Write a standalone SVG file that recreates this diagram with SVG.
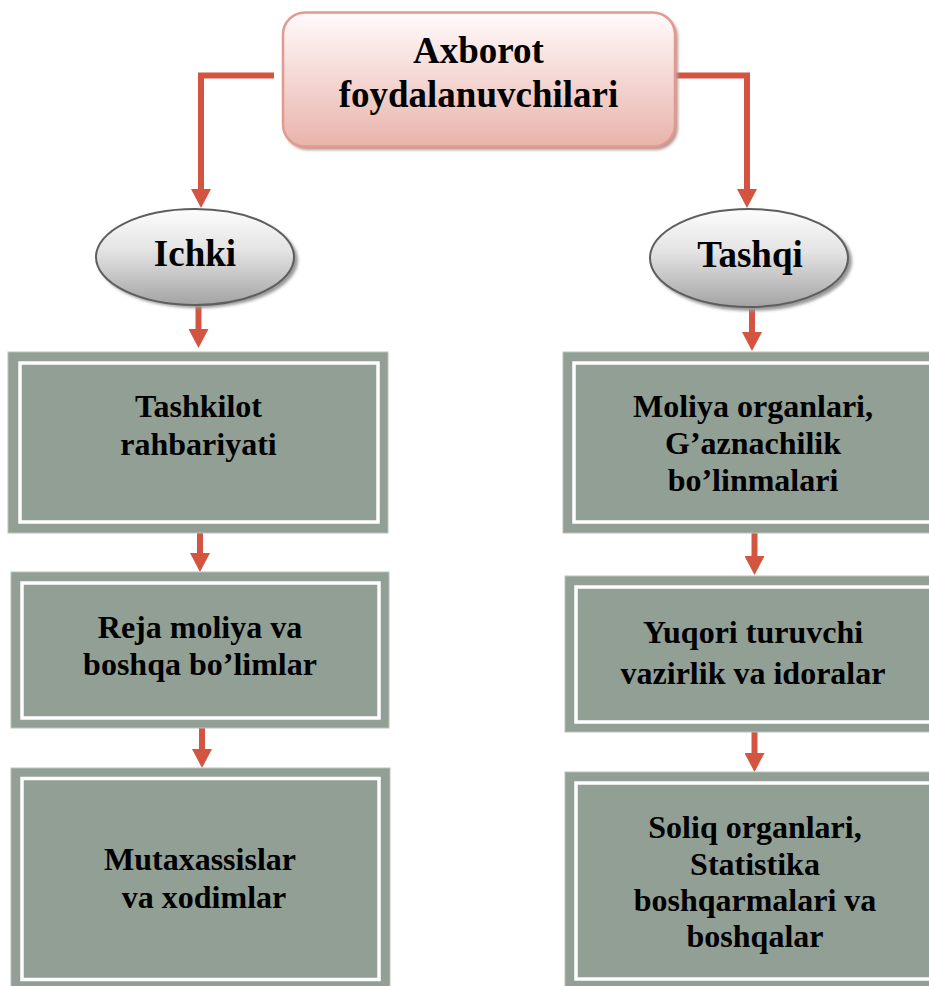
<svg xmlns="http://www.w3.org/2000/svg" width="929" height="986" viewBox="0 0 929 986">
  <defs>
    <linearGradient id="gradHead" x1="0" y1="0" x2="0" y2="1">
      <stop offset="0" stop-color="#fffbfb"/>
      <stop offset="1" stop-color="#e9b3ab"/>
    </linearGradient>
    <linearGradient id="gradOval" x1="0" y1="0" x2="0" y2="1">
      <stop offset="0" stop-color="#fdfdfd"/>
      <stop offset="0.45" stop-color="#e2e2e2"/>
      <stop offset="1" stop-color="#a3a3a3"/>
    </linearGradient>
    <filter id="soft" x="-10%" y="-10%" width="130%" height="130%">
      <feGaussianBlur stdDeviation="1.5"/>
    </filter>
    <marker id="arrow" viewBox="0 0 20 20" refX="0" refY="10" markerWidth="20" markerHeight="20" markerUnits="userSpaceOnUse" orient="auto">
      <path d="M0,0 L19,10 L0,20 z" fill="#d35440"/>
    </marker>
  </defs>
  <style>
    .lbl { font-family: "Liberation Serif", "Times New Roman", serif; font-weight: bold; fill: #000; text-anchor: middle; }
    .big { font-size: 37px; }
    .mid { font-size: 32px; }
    .box { fill: #919f95; stroke: #b9c2bb; stroke-width: 1; }
    .inner { fill: none; stroke: #ffffff; stroke-width: 3.5; }
    .oval { fill: url(#gradOval); stroke: #5e5e5e; stroke-width: 2; }
    .shadow { fill: #9a9a9a; filter: url(#soft); }
    .link { fill: none; stroke: #d35440; stroke-width: 6; stroke-linecap: butt; stroke-linejoin: miter; marker-end: url(#arrow); }
  </style>

  <rect width="929" height="986" fill="#ffffff"/>

  <!-- connectors -->
  <g id="connectors">
    <path class="link" d="M274,75.5 H201 V189"/>
    <path class="link" d="M673,75.5 H747 V189"/>
    <path class="link" d="M198.5,305 V329"/>
    <path class="link" d="M752,308 V332"/>
    <path class="link" d="M200,533 V553"/>
    <path class="link" d="M202,728 V749"/>
    <path class="link" d="M754.5,532 V556"/>
    <path class="link" d="M754.5,732 V753"/>
  </g>

  <!-- top node -->
  <g id="node-root">
    <rect x="285" y="15" width="393" height="135" rx="22" fill="#b89792" filter="url(#soft)"/>
    <rect x="283" y="12.5" width="392" height="134" rx="22" fill="url(#gradHead)" stroke="#e3998d" stroke-width="2.5"/>
    <text class="lbl big" x="478.5" y="63">Axborot</text>
    <text class="lbl big" x="478.5" y="107">foydalanuvchilari</text>
  </g>

  <!-- ovals -->
  <g id="node-ichki">
    <ellipse class="shadow" cx="198" cy="260" rx="100" ry="48"/>
    <ellipse class="oval" cx="195" cy="257" rx="99" ry="48"/>
    <text class="lbl big" x="195" y="266">Ichki</text>
  </g>
  <g id="node-tashqi">
    <ellipse class="shadow" cx="752" cy="261" rx="100" ry="50"/>
    <ellipse class="oval" cx="749" cy="258" rx="99" ry="49"/>
    <text class="lbl big" x="750" y="267">Tashqi</text>
  </g>

  <!-- internal users -->
  <g id="node-rahbariyat">
    <rect class="box" x="8" y="352" width="380" height="181"/>
    <rect class="inner" x="20" y="363" width="358" height="159"/>
    <text class="lbl mid" x="198.5" y="417">Tashkilot</text>
    <text class="lbl mid" x="198.5" y="455">rahbariyati</text>
  </g>
  <g id="node-reja">
    <rect class="box" x="11" y="572" width="378" height="156"/>
    <rect class="inner" x="22" y="583" width="357" height="135"/>
    <text class="lbl mid" x="200" y="638">Reja moliya va</text>
    <text class="lbl mid" x="200" y="675">boshqa bo’limlar</text>
  </g>
  <g id="node-mutaxassis">
    <rect class="box" x="11" y="768" width="379" height="222"/>
    <rect class="inner" x="22" y="778.5" width="357" height="201"/>
    <text class="lbl mid" x="200" y="870">Mutaxassislar</text>
    <text class="lbl mid" x="204" y="908">va xodimlar</text>
  </g>

  <!-- external users -->
  <g id="node-moliya">
    <rect class="box" x="563" y="352" width="380" height="181"/>
    <rect class="inner" x="574" y="363" width="358" height="159"/>
    <text class="lbl mid" x="753" y="417">Moliya organlari,</text>
    <text class="lbl mid" x="753" y="454">G’aznachilik</text>
    <text class="lbl mid" x="753" y="491">bo’linmalari</text>
  </g>
  <g id="node-vazirlik">
    <rect class="box" x="565" y="576" width="380" height="156"/>
    <rect class="inner" x="576" y="587" width="358" height="135"/>
    <text class="lbl mid" x="753" y="643">Yuqori turuvchi</text>
    <text class="lbl mid" x="753" y="684">vazirlik va idoralar</text>
  </g>
  <g id="node-soliq">
    <rect class="box" x="565" y="772" width="380" height="218"/>
    <rect class="inner" x="576" y="783" width="358" height="196"/>
    <text class="lbl mid" x="755" y="838">Soliq organlari,</text>
    <text class="lbl mid" x="755" y="875">Statistika</text>
    <text class="lbl mid" x="755" y="911">boshqarmalari va</text>
    <text class="lbl mid" x="755" y="947">boshqalar</text>
  </g>
</svg>
